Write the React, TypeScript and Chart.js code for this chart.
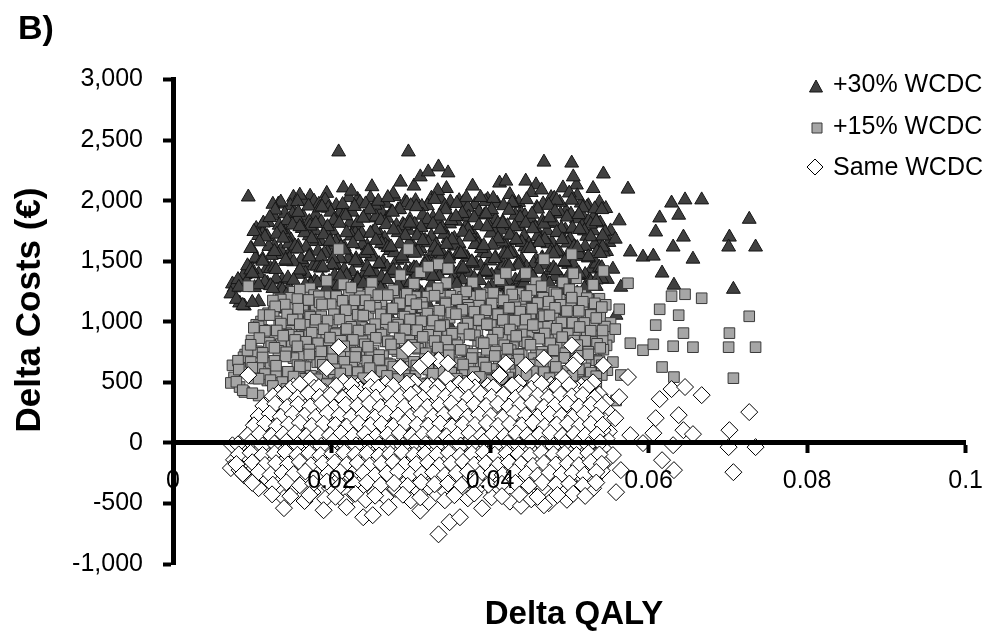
import React, { useEffect, useRef } from 'react';
import { Chart, registerables } from 'chart.js';

Chart.register(...registerables);

// ---- Data ----
const seriesNames = ['+30% WCDC', '+15% WCDC', 'Same WCDC'];
const xTickLabels = ['0', '0.02', '0.04', '0.06', '0.08', '0.1'];
const yTickLabels = ['-1,000', '-500', '0', '500', '1,000', '1,500', '2,000', '2,500', '3,000'];

// Delta QALY of each simulation (shared by the three scenarios)
const deltaQaly = [
  .0152, .0173, .0194, .0215, .0233, .0251, .0268, .0287, .0304, .0312, .0326, .0345, .0361, .0378, .0397, .0412, .0420, .0436, .0445, .0458, .0477, .0492, .0515, .0530,
  .0209, .0297, .0335, .0347, .0322, .0468, .0503, .0509, .0095, .0543, .0574, .0505,
  .0133, .0148, .0165, .0178, .0192, .0206, .0222, .0236, .0249, .0263, .0279, .0293, .0306, .0321, .0337, .0350, .0366, .0381, .0394, .0409, .0425, .0439, .0452, .0467, .0481, .0496, .0510, .0524, .0538,
  .0120, .0136, .0151, .0164, .0180, .0196, .0210, .0226, .0241, .0255, .0270, .0284, .0299, .0314, .0328, .0343, .0357, .0372, .0386, .0401, .0416, .0430, .0444, .0459, .0473, .0488, .0502, .0517, .0531, .0546,
  .0111, .0127, .0142, .0157, .0172, .0187, .0201, .0217, .0231, .0246, .0261, .0276, .0290, .0305, .0319, .0334, .0349, .0363, .0378, .0393, .0407, .0422, .0437, .0451, .0466, .0480, .0495, .0509, .0524, .0539, .0552,
  .0105, .0119, .0134, .0149, .0163, .0179, .0193, .0208, .0223, .0238, .0252, .0267, .0282, .0297, .0311, .0326, .0340, .0355, .0370, .0384, .0399, .0414, .0428, .0443, .0457, .0472, .0487, .0501, .0516, .0530, .0545,
  .0099, .0113, .0128, .0143, .0158, .0172, .0186, .0202, .0216, .0230, .0245, .0259, .0274, .0289, .0303, .0318, .0332, .0347, .0361, .0376, .0391, .0405, .0420, .0434, .0449, .0463, .0478, .0493, .0507, .0522, .0537, .0550,
  .0091, .0106, .0121, .0136, .0150, .0165, .0180, .0195, .0209, .0224, .0239, .0253, .0268, .0283, .0298, .0312, .0327, .0341, .0356, .0371, .0385, .0400, .0415, .0429, .0444, .0458, .0473, .0488, .0502, .0517, .0532, .0547,
  .0075, .0089, .0104, .0118, .0133, .0147, .0162, .0177, .0191, .0206, .0221, .0235, .0250, .0265, .0279, .0294, .0309, .0323, .0338, .0352, .0367, .0382, .0396, .0411, .0426, .0440, .0455, .0469, .0484, .0499, .0513, .0528, .0543,
  .0077, .0093, .0108, .0123, .0138, .0152, .0167, .0182, .0197, .0211, .0226, .0241, .0256, .0270, .0285, .0300, .0314, .0329, .0344, .0358, .0373, .0388, .0402, .0417, .0432, .0446, .0461, .0476, .0490, .0505, .0520, .0534, .0548,
  .0073, .0084, .0100, .0115, .0130, .0145, .0159, .0174, .0189, .0203, .0218, .0233, .0247, .0262, .0277, .0291, .0306, .0321, .0335, .0350, .0365, .0379, .0394, .0409, .0423, .0438, .0453, .0467, .0482, .0497, .0511, .0526, .0541,
  .0090, .0103, .0119, .0135, .0150, .0164, .0179, .0194, .0208, .0223, .0238, .0252, .0267, .0282, .0296, .0311, .0326, .0340, .0355, .0370, .0384, .0399, .0414, .0428, .0443, .0458, .0472, .0487, .0502, .0516, .0531,
  .0108, .0135, .0155, .0176, .0198, .0219, .0240, .0261, .0281, .0302, .0323, .0344, .0364, .0385, .0406, .0426, .0447, .0468, .0489, .0510, .0530,
  .0140, .0166, .0192, .0217, .0243, .0268, .0300, .0322, .0343, .0372, .0402, .0425, .0452, .0474, .0497,
  .0140, .0190, .0219, .0240, .0252, .0272, .0335, .0349, .0362, .0439, .0468, .0312, .0390,
  .0563, .0614, .0629, .0646, .0667, .0638, .0727, .0609, .0644, .0702, .0558, .0542, .0577, .0593, .0606, .0631, .0701, .0735, .0656, .0555, .0617, .0632, .0707, .0565, .0559,
  .0160, .0184, .0225, .0259, .0278, .0295, .0334, .0370, .0404, .0428, .0465, .0484, .0500, .0522,
  .0126, .0141, .0157, .0171, .0185, .0199, .0214, .0229, .0243, .0256, .0271, .0286, .0300, .0315, .0330, .0344, .0358, .0373, .0388, .0402, .0417, .0432, .0446, .0460, .0474, .0489, .0503, .0517, .0532,
  .0114, .0129, .0144, .0158, .0173, .0188, .0203, .0218, .0233, .0248, .0262, .0277, .0292, .0307, .0321, .0336, .0351, .0365, .0380, .0395, .0410, .0424, .0438, .0453, .0468, .0482, .0497, .0512, .0527, .0541,
  .0108, .0122, .0136, .0151, .0166, .0180, .0195, .0210, .0225, .0240, .0255, .0269, .0284, .0299, .0313, .0328, .0342, .0357, .0372, .0386, .0401, .0416, .0431, .0445, .0460, .0475, .0490, .0504, .0519, .0534,
  .0102, .0116, .0131, .0146, .0160, .0175, .0190, .0205, .0219, .0234, .0249, .0263, .0278, .0293, .0308, .0322, .0337, .0352, .0366, .0381, .0396, .0410, .0425, .0440, .0454, .0469, .0484, .0498, .0513, .0527, .0542,
  .0094, .0109, .0124, .0139, .0154, .0168, .0183, .0198, .0212, .0227, .0242, .0256, .0271, .0286, .0301, .0315, .0330, .0345, .0359, .0374, .0389, .0403, .0418, .0433, .0447, .0462, .0476, .0491, .0506, .0520, .0535,
  .0082, .0098, .0113, .0128, .0143, .0157, .0172, .0187, .0202, .0216, .0231, .0246, .0260, .0275, .0290, .0305, .0319, .0334, .0348, .0363, .0378, .0392, .0407, .0422, .0436, .0451, .0466, .0480, .0495, .0510, .0524, .0539,
  .0083, .0098, .0113, .0128, .0142, .0157, .0172, .0186, .0201, .0216, .0230, .0245, .0260, .0274, .0289, .0304, .0318, .0333, .0348, .0362, .0377, .0392, .0406, .0421, .0436, .0450, .0465, .0480, .0494, .0509, .0524, .0538,
  .0080, .0100, .0116, .0130, .0145, .0160, .0174, .0189, .0204, .0219, .0233, .0248, .0263, .0278, .0292, .0307, .0322, .0336, .0351, .0366, .0380, .0395, .0410, .0424, .0439, .0454, .0468, .0483, .0498, .0512, .0527, .0541,
  .0088, .0108, .0123, .0138, .0152, .0167, .0182, .0196, .0211, .0226, .0240, .0255, .0270, .0284, .0299, .0314, .0328, .0343, .0358, .0372, .0387, .0402, .0416, .0431, .0446, .0460, .0475, .0490, .0504, .0519, .0534,
  .0100, .0126, .0143, .0160, .0177, .0194, .0211, .0228, .0245, .0262, .0279, .0296, .0313, .0330, .0347, .0364, .0381, .0398, .0415, .0432, .0449, .0466, .0483, .0500, .0517, .0534,
  .0125, .0148, .0172, .0205, .0230, .0255, .0290, .0312, .0355, .0380, .0415, .0437, .0460, .0485, .0505, .0520,
];

// Delta costs (EUR), same WCDC
const costSame = [
  468, 526, 617, 505, 470, 530, 488, 625, 500, 633, 475, 540, 490, 520, 470, 560, 657, 495, 641, 510, 480, 545, 470, 500,
  790, 780, 683, 657, 690, 699, 805, 683, 559, 640, 543, 640,
  412, 448, 395, 455, 420, 470, 405, 440, 462, 398, 435, 452, 415, 468, 400, 445, 425, 458, 392, 438, 465, 410, 447, 428, 460, 402, 440, 418, 400,
  330, 368, 345, 312, 372, 338, 355, 320, 376, 342, 310, 365, 335, 352, 318, 370, 340, 325, 362, 348, 315, 374, 336, 358, 322, 366, 344, 312, 360, 335,
  237, 290, 255, 232, 282, 265, 240, 295, 250, 272, 230, 288, 258, 245, 292, 236, 268, 284, 242, 262, 296, 233, 276, 252, 290, 240, 268, 230, 285, 255, 240,
  170, 163, 212, 185, 150, 205, 178, 160, 215, 190, 152, 200, 175, 210, 158, 195, 172, 148, 208, 182, 165, 214, 155, 198, 176, 210, 150, 192, 168, 205, 180,
  95, 128, 82, 115, 135, 90, 120, 72, 108, 132, 85, 118, 98, 130, 75, 112, 126, 88, 104, 135, 78, 122, 96, 110, 132, 80, 116, 92, 128, 86, 110, 95,
  39, 6, 22, 50, 15, -5, 42, 28, 55, 8, 35, -2, 48, 18, 30, 60, 2, 40, 25, -8, 52, 12, 38, 20, 58, 0, 44, 26, 10, 50, 18, 35,
  -20, -60, -35, -75, -45, -19, -70, -30, -55, -80, -40, -25, -65, -48, -15, -72, -38, -58, -28, -78, -44, -62, -22, -68, -50, -35, -80, -42, -18, -66, -30, -55, -45,
  -140, -110, -150, -120, -165, -105, -140, -125, -158, -100, -135, -170, -115, -148, -128, -160, -108, -142, -122, -168, -102, -138, -155, -118, -145, -170, -112, -135, -160, -125, -150, -108, -140,
  -208, -225, -190, -235, -205, -245, -185, -220, -240, -198, -230, -188, -250, -212, -195, -238, -206, -248, -186, -225, -215, -242, -192, -228, -250, -200, -235, -210, -188, -244, -218, -196, -230,
  -270, -208, -300, -275, -315, -285, -265, -310, -290, -272, -320, -282, -300, -268, -312, -288, -276, -305, -262, -318, -292, -270, -308, -285, -265, -316, -290, -274, -305, -282, -300,
  -374, -390, -360, -405, -372, -395, -365, -410, -380, -398, -362, -402, -385, -370, -408, -378, -392, -366, -400, -382, -375,
  -455, -480, -462, -490, -470, -448, -474, -492, -474, -458, -449, -485, -466, -498, -470,
  -539, -556, -531, -614, -597, -531, -755, -655, -614, -520, -515, -560, -540,
  378, 361, 444, 461, 394, 229, 254, 204, 105, 105, 204, 105, 64, -2, 80, -19, -35, -35, 72, -101, -143, -225, -242, -225, -407,
  485, 460, 478, 455, 470, 490, 462, 480, 458, 475, 488, 462, 478, 455,
  385, 402, 372, 410, 380, 395, 368, 412, 388, 375, 405, 382, 398, 370, 410, 385, 392, 375, 406, 380, 398, 370, 408, 390, 376, 400, 384, 395, 372,
  305, 322, 295, 318, 300, 328, 292, 315, 308, 325, 296, 320, 302, 330, 298, 312, 326, 294, 318, 305, 322, 300, 314, 328, 296, 310, 324, 300, 316, 306,
  222, 240, 215, 238, 225, 212, 245, 228, 218, 236, 210, 242, 226, 214, 239, 220, 232, 248, 216, 234, 222, 210, 244, 228, 215, 238, 224, 212, 240, 226,
  145, 160, 138, 152, 165, 140, 158, 148, 135, 162, 146, 155, 138, 166, 150, 142, 160, 136, 154, 148, 164, 140, 156, 145, 168, 138, 152, 160, 142, 156, 148,
  62, 75, 58, 70, 80, 55, 72, 64, 78, 60, 74, 52, 68, 82, 58, 70, 76, 54, 66, 80, 60, 72, 56, 78, 64, 70, 82, 58, 74, 62, 68,
  -12, 5, -22, -5, 8, -18, 0, -25, 10, -8, -20, 4, -15, -2, -24, 6, -10, -18, 2, -22, -6, 8, -16, -3, -20, 5, -12, -25, 0, -8, -18, 4,
  -95, -82, -100, -88, -76, -98, -85, -102, -90, -80, -96, -86, -104, -92, -78, -100, -88, -95, -82, -106, -90, -78, -98, -86, -92, -104, -80, -94, -88, -100, -84, -96,
  -175, -160, -182, -168, -178, -158, -185, -170, -162, -180, -166, -188, -172, -160, -182, -176, -164, -186, -170, -158, -180, -168, -184, -162, -176, -190, -166, -178, -170, -184, -160, -174,
  -255, -240, -262, -248, -258, -236, -265, -250, -242, -260, -246, -268, -252, -238, -262, -256, -244, -266, -250, -238, -260, -248, -264, -242, -256, -270, -246, -258, -250, -264, -240,
  -330, -345, -325, -350, -335, -320, -352, -338, -328, -348, -332, -355, -326, -342, -335, -350, -322, -345, -338, -330, -352, -326, -344, -336, -350, -328,
  -425, -440, -430, -445, -420, -436, -428, -450, -432, -418, -440, -426, -446, -430, -420, -438,
];

// Delta costs (EUR), +15% WCDC
const cost15 = [
  1248, 1276, 1339, 1310, 1235, 1320, 1228, 1385, 1315, 1409, 1245, 1320, 1240, 1325, 1235, 1350, 1402, 1235, 1402, 1325, 1250, 1325, 1220, 1305,
  1600, 1600, 1475, 1440, 1455, 1516, 1558, 1359, 1293, 1419, 1318, 1400,
  1192, 1198, 1200, 1220, 1210, 1210, 1220, 1210, 1242, 1148, 1240, 1217, 1205, 1208, 1215, 1215, 1205, 1208, 1197, 1203, 1255, 1150, 1262, 1198, 1240, 1152, 1245, 1183, 1190,
  1070, 1183, 1115, 1092, 1122, 1143, 1120, 1110, 1116, 1157, 1080, 1145, 1085, 1157, 1083, 1160, 1080, 1140, 1132, 1128, 1065, 1179, 1101, 1148, 1062, 1181, 1114, 1092, 1110, 1140,
  1002, 1080, 995, 1047, 1052, 1045, 990, 1100, 1015, 1062, 970, 1103, 1028, 1025, 1042, 1041, 1033, 1074, 982, 1077, 1066, 1013, 1026, 1057, 1055, 1030, 1008, 1045, 1055, 1035, 990,
  975, 928, 1002, 925, 965, 975, 958, 910, 1020, 955, 942, 940, 990, 980, 938, 945, 977, 913, 998, 922, 980, 984, 935, 948, 981, 975, 940, 932, 983, 975, 960,
  845, 933, 847, 905, 875, 905, 890, 852, 858, 937, 850, 908, 838, 945, 845, 892, 876, 893, 869, 925, 818, 937, 866, 890, 882, 885, 881, 882, 868, 901, 880, 875,
  729, 756, 827, 815, 805, 735, 857, 798, 835, 758, 840, 763, 838, 758, 845, 830, 782, 790, 830, 757, 842, 752, 853, 790, 838, 750, 849, 791, 800, 790, 833, 805,
  640, 707, 745, 675, 760, 746, 720, 710, 760, 690, 740, 725, 740, 717, 775, 668, 777, 712, 752, 672, 761, 703, 768, 672, 765, 735, 700, 708, 787, 699, 760, 685, 770,
  540, 610, 620, 660, 585, 700, 625, 665, 582, 715, 635, 610, 635, 657, 637, 630, 632, 673, 648, 612, 648, 667, 610, 672, 595, 645, 658, 645, 590, 680, 615, 682, 600,
  495, 461, 625, 535, 575, 505, 620, 545, 550, 542, 585, 582, 530, 538, 610, 527, 584, 492, 629, 545, 565, 508, 613, 537, 540, 540, 580, 560, 592, 506, 587, 569, 560,
  420, 532, 515, 495, 465, 465, 540, 455, 500, 468, 495, 488, 480, 482, 493, 477, 514, 435, 553, 452, 488, 480, 497, 480, 525, 424, 525, 496, 475, 468, 505,
  391, 400, 380, 410, 398, 385, 385, 395, 385, 392, 378, 413, 385, 410, 342, 427, 373, 424, 340, 433, 395,
  325, 270, 343, 275, 320, 292, 341, 278, 306, 292, 356, 280, 324, 242, 345,
  231, 224, 219, 191, 168, 259, -15, 160, 156, 260, 235, 245, 225,
  1103, 1103, 1211, 1227, 1194, 1054, 1045, 972, 906, 906, 939, 856, 823, 765, 814, 798, 790, 790, 790, 667, 626, 543, 534, 560, 350,
  1265, 1210, 1283, 1220, 1260, 1230, 1277, 1250, 1238, 1225, 1293, 1227, 1268, 1195,
  1175, 1142, 1187, 1180, 1160, 1145, 1173, 1177, 1178, 1115, 1220, 1152, 1178, 1120, 1215, 1150, 1182, 1115, 1221, 1150, 1178, 1120, 1213, 1155, 1166, 1140, 1199, 1165, 1152,
  1055, 1127, 1060, 1108, 1040, 1143, 1062, 1095, 1058, 1130, 1061, 1110, 1042, 1145, 1068, 1092, 1076, 1099, 1083, 1095, 1062, 1115, 1084, 1108, 1046, 1115, 1089, 1090, 1056, 1121,
  962, 1055, 985, 1018, 975, 1017, 1010, 1018, 958, 1051, 980, 1022, 976, 1019, 1004, 1010, 972, 1063, 986, 1014, 972, 1015, 1009, 1018, 955, 1053, 994, 992, 990, 1031,
  950, 925, 928, 892, 980, 910, 938, 898, 940, 927, 936, 895, 953, 936, 930, 892, 965, 901, 944, 888, 979, 910, 936, 895, 973, 903, 942, 900, 957, 926, 928,
  762, 865, 798, 885, 850, 835, 822, 869, 843, 850, 814, 867, 838, 862, 808, 875, 841, 844, 806, 895, 830, 852, 806, 883, 829, 860, 822, 873, 844, 842, 818,
  678, 810, 743, 785, 748, 797, 770, 755, 760, 797, 745, 794, 725, 813, 746, 786, 740, 787, 767, 768, 734, 823, 754, 777, 730, 810, 753, 765, 740, 807, 752, 784,
  605, 668, 705, 677, 714, 642, 730, 668, 690, 670, 709, 679, 686, 648, 737, 670, 692, 655, 723, 659, 700, 662, 717, 684, 688, 646, 725, 671, 702, 640, 731, 674,
  505, 620, 568, 637, 587, 632, 555, 645, 608, 600, 584, 617, 593, 630, 558, 639, 606, 594, 580, 647, 585, 622, 556, 653, 594, 590, 584, 627, 595, 606, 580, 641,
  435, 530, 518, 502, 547, 529, 525, 490, 573, 510, 534, 482, 553, 527, 528, 484, 571, 504, 530, 512, 545, 517, 526, 498, 559, 500, 534, 492, 555, 501, 550,
  410, 470, 445, 430, 415, 485, 413, 452, 412, 467, 438, 425, 424, 463, 430, 440, 418, 470, 432, 450, 398, 479, 421, 454, 390, 487,
  325, 365, 335, 345, 320, 379, 342, 330, 318, 387, 325, 364, 294, 385, 350, 342,
];

// Delta costs (EUR), +30% WCDC
const cost30 = [
  2028, 2036, 2060, 2105, 2010, 2115, 1978, 2153, 2120, 2196, 2020, 2100, 2000, 2120, 2010, 2145, 2161, 1985, 2161, 2130, 2025, 2105, 1980, 2100,
  2402, 2402, 2278, 2229, 2237, 2318, 2310, 2129, 2030, 2220, 2095, 2196,
  1972, 1958, 1995, 1995, 2005, 1960, 2025, 1985, 2022, 1908, 2035, 1992, 2000, 1958, 2020, 1990, 1985, 1968, 1992, 1978, 2050, 1900, 2067, 1973, 2020, 1912, 2040, 1958, 1985,
  1820, 1988, 1890, 1872, 1882, 1938, 1895, 1905, 1866, 1962, 1855, 1925, 1845, 1952, 1858, 1955, 1830, 1945, 1907, 1908, 1825, 1974, 1876, 1943, 1812, 1986, 1889, 1872, 1870, 1935,
  1777, 1875, 1745, 1852, 1827, 1825, 1750, 1895, 1790, 1857, 1720, 1908, 1803, 1805, 1802, 1836, 1808, 1869, 1732, 1882, 1841, 1793, 1786, 1852, 1830, 1825, 1758, 1850, 1830, 1815, 1750,
  1770, 1703, 1797, 1675, 1770, 1750, 1738, 1670, 1815, 1730, 1737, 1690, 1795, 1755, 1718, 1705, 1772, 1688, 1793, 1672, 1785, 1759, 1715, 1708, 1776, 1750, 1735, 1682, 1788, 1750, 1740,
  1605, 1728, 1622, 1700, 1625, 1710, 1665, 1632, 1618, 1732, 1625, 1703, 1588, 1750, 1620, 1672, 1636, 1688, 1644, 1720, 1568, 1742, 1641, 1670, 1642, 1680, 1656, 1677, 1618, 1706, 1655, 1655,
  1389, 1516, 1622, 1590, 1600, 1485, 1662, 1573, 1615, 1518, 1635, 1538, 1633, 1508, 1650, 1605, 1562, 1550, 1625, 1532, 1637, 1502, 1658, 1565, 1618, 1510, 1644, 1566, 1595, 1540, 1638, 1580,
  1312, 1385, 1525, 1435, 1555, 1521, 1515, 1460, 1565, 1465, 1520, 1485, 1535, 1492, 1570, 1418, 1582, 1487, 1532, 1432, 1556, 1478, 1563, 1422, 1570, 1510, 1480, 1468, 1582, 1474, 1555, 1435, 1575,
  1280, 1330, 1395, 1440, 1345, 1495, 1400, 1460, 1332, 1520, 1410, 1390, 1395, 1452, 1412, 1425, 1382, 1478, 1423, 1392, 1408, 1462, 1385, 1467, 1345, 1450, 1433, 1425, 1350, 1475, 1390, 1477, 1350,
  1230, 1155, 1430, 1310, 1355, 1265, 1415, 1320, 1345, 1292, 1390, 1357, 1310, 1298, 1405, 1302, 1379, 1242, 1434, 1320, 1345, 1268, 1408, 1312, 1335, 1290, 1385, 1335, 1372, 1266, 1382, 1344, 1355,
  1130, 1282, 1320, 1270, 1245, 1225, 1335, 1230, 1295, 1218, 1300, 1263, 1260, 1242, 1288, 1252, 1309, 1185, 1358, 1227, 1268, 1240, 1292, 1255, 1320, 1174, 1330, 1271, 1255, 1228, 1300,
  1166, 1195, 1130, 1215, 1173, 1165, 1145, 1190, 1160, 1187, 1128, 1218, 1160, 1190, 1102, 1222, 1148, 1219, 1090, 1238, 1170,
  1105, 1030, 1138, 1050, 1115, 1042, 1146, 1053, 1086, 1052, 1151, 1055, 1119, 992, 1150,
  1006, 1004, 979, 986, 943, 1054, 735, 965, 931, 1040, 995, 1040, 1000,
  1833, 1857, 1980, 2006, 2006, 1880, 1846, 1741, 1699, 1699, 1682, 1617, 1576, 1534, 1542, 1617, 1617, 1617, 1517, 1434, 1402, 1302, 1268, 1285, 1054,
  2045, 1970, 2078, 1995, 2055, 1980, 2082, 2025, 2018, 1985, 2088, 2002, 2063, 1945,
  1970, 1892, 1992, 1955, 1940, 1905, 1968, 1952, 1973, 1865, 2025, 1927, 1958, 1880, 2010, 1925, 1977, 1865, 2026, 1925, 1958, 1880, 2008, 1930, 1961, 1890, 2004, 1940, 1932,
  1815, 1922, 1835, 1903, 1790, 1948, 1837, 1875, 1818, 1925, 1836, 1905, 1792, 1950, 1843, 1872, 1836, 1894, 1858, 1890, 1812, 1920, 1859, 1888, 1806, 1910, 1864, 1885, 1806, 1926,
  1712, 1860, 1760, 1798, 1735, 1812, 1785, 1813, 1708, 1856, 1755, 1802, 1736, 1814, 1779, 1805, 1722, 1868, 1761, 1794, 1732, 1810, 1784, 1813, 1705, 1858, 1769, 1772, 1750, 1826,
  1745, 1700, 1723, 1642, 1785, 1685, 1718, 1658, 1735, 1702, 1731, 1645, 1758, 1711, 1710, 1652, 1760, 1676, 1739, 1638, 1784, 1685, 1716, 1655, 1768, 1678, 1737, 1650, 1762, 1701, 1708,
  1462, 1660, 1548, 1690, 1625, 1615, 1582, 1664, 1618, 1645, 1564, 1672, 1613, 1642, 1568, 1670, 1616, 1639, 1556, 1700, 1605, 1632, 1566, 1678, 1604, 1655, 1572, 1678, 1619, 1622, 1578,
  1348, 1605, 1518, 1580, 1498, 1602, 1545, 1535, 1520, 1592, 1520, 1589, 1475, 1618, 1521, 1566, 1500, 1582, 1542, 1563, 1484, 1628, 1529, 1557, 1490, 1605, 1528, 1560, 1490, 1612, 1527, 1564,
  1285, 1428, 1500, 1452, 1509, 1392, 1535, 1443, 1470, 1430, 1504, 1454, 1481, 1398, 1542, 1445, 1472, 1415, 1518, 1434, 1495, 1412, 1522, 1459, 1468, 1406, 1520, 1446, 1497, 1390, 1536, 1449,
  1185, 1400, 1328, 1432, 1362, 1427, 1305, 1450, 1383, 1380, 1344, 1412, 1368, 1425, 1308, 1444, 1381, 1374, 1340, 1442, 1360, 1417, 1306, 1458, 1369, 1370, 1344, 1422, 1370, 1401, 1330, 1446,
  1135, 1305, 1298, 1262, 1342, 1304, 1320, 1240, 1378, 1285, 1314, 1242, 1348, 1302, 1323, 1234, 1376, 1279, 1310, 1272, 1340, 1292, 1321, 1248, 1364, 1275, 1314, 1252, 1350, 1276, 1345,
  1160, 1275, 1220, 1210, 1175, 1280, 1188, 1247, 1162, 1272, 1213, 1205, 1184, 1258, 1205, 1235, 1168, 1275, 1207, 1230, 1158, 1274, 1196, 1249, 1140, 1292,
  1085, 1160, 1110, 1140, 1070, 1184, 1117, 1110, 1078, 1182, 1100, 1159, 1044, 1190, 1125, 1122,
];

// ---- Styling ----
const FONT = "'Liberation Sans', Arial, sans-serif";
const TICK_SIZE = 25;
const TRI_FILL = '#404040';
const TRI_EDGE = '#151515';
const SQ_FILL = '#a6a6a6';
const SQ_EDGE = '#3a3a3a';
const DIA_FILL = '#ffffff';
const DIA_EDGE = '#000000';

const decorPlugin = {
  id: 'decor',
  afterDraw(chart: any) {
    const ctx: CanvasRenderingContext2D = chart.ctx;
    ctx.save();
    ctx.fillStyle = '#000';
    // panel letter
    ctx.font = `bold 34px ${FONT}`;
    ctx.textAlign = 'left';
    ctx.textBaseline = 'alphabetic';
    ctx.fillText('B)', 18, 39);
    // x title
    ctx.font = `bold 33px ${FONT}`;
    ctx.textAlign = 'center';
    ctx.textBaseline = 'middle';
    ctx.fillText('Delta QALY', 574, 615);
    // y title
    ctx.save();
    ctx.translate(30, 310);
    ctx.rotate(-Math.PI / 2);
    ctx.font = `bold 35px ${FONT}`;
    ctx.fillText('Delta Costs (\u20AC)', 0, 0);
    ctx.restore();

    // legend
    ctx.lineWidth = 1;
    ctx.beginPath();
    ctx.moveTo(816, 80);
    ctx.lineTo(822.5, 92);
    ctx.lineTo(809.5, 92);
    ctx.closePath();
    ctx.fillStyle = TRI_FILL;
    ctx.strokeStyle = TRI_EDGE;
    ctx.fill();
    ctx.stroke();

    ctx.beginPath();
    ctx.rect(812, 123, 10, 10);
    ctx.fillStyle = SQ_FILL;
    ctx.strokeStyle = SQ_EDGE;
    ctx.fill();
    ctx.stroke();

    ctx.beginPath();
    ctx.moveTo(815, 159);
    ctx.lineTo(823, 167);
    ctx.lineTo(815, 175);
    ctx.lineTo(807, 167);
    ctx.closePath();
    ctx.fillStyle = DIA_FILL;
    ctx.strokeStyle = DIA_EDGE;
    ctx.fill();
    ctx.stroke();

    ctx.fillStyle = '#000';
    ctx.font = `25px ${FONT}`;
    ctx.textAlign = 'left';
    ctx.textBaseline = 'middle';
    ctx.fillText(seriesNames[0], 833, 85);
    ctx.fillText(seriesNames[1], 833, 127);
    ctx.fillText(seriesNames[2], 833, 168);
    ctx.restore();
  },
};

export default function App() {
  const ref = useRef<HTMLCanvasElement | null>(null);

  useEffect(() => {
    if (!ref.current) return;
    const ptsSame = deltaQaly.map((x, i) => ({ x, y: costSame[i] }));
    const pts15 = deltaQaly.map((x, i) => ({ x, y: cost15[i] }));
    const pts30 = deltaQaly.map((x, i) => ({ x, y: cost30[i] }));

    const chart = new Chart(ref.current, {
      type: 'scatter',
      data: {
        datasets: [
          {
            label: seriesNames[2],
            data: ptsSame,
            pointStyle: 'rectRot',
            pointRadius: 8.5,
            backgroundColor: DIA_FILL,
            borderColor: DIA_EDGE,
            borderWidth: 1,
          },
          {
            label: seriesNames[1],
            data: pts15,
            pointStyle: 'rect',
            pointRadius: 7.5,
            backgroundColor: SQ_FILL,
            borderColor: SQ_EDGE,
            borderWidth: 1,
          },
          {
            label: seriesNames[0],
            data: pts30,
            pointStyle: 'triangle',
            pointRadius: 8,
            backgroundColor: TRI_FILL,
            borderColor: TRI_EDGE,
            borderWidth: 1,
          },
        ],
      },
      options: {
        responsive: false,
        animation: false,
        events: [],
        layout: { padding: { top: 79.5, bottom: 72, left: 0, right: 21 } },
        plugins: {
          legend: { display: false },
          tooltip: { enabled: false },
        },
        scales: {
          x: {
            type: 'linear',
            min: 0,
            max: 0.1,
            position: { y: 0 } as any,
            ticks: {
              z: 1,
              stepSize: 0.02,
              color: '#000',
              font: { family: FONT, size: TICK_SIZE },
              padding: 15,
              maxRotation: 0,
              autoSkip: false,
              callback: (_v: any, i: number) => xTickLabels[i],
            },
            grid: {
              z: 1,
              drawOnChartArea: false,
              drawTicks: true,
              tickLength: 8,
              tickWidth: 4,
              tickColor: '#000',
            },
            border: { z: 1, display: true, color: '#000', width: 5 },
          },
          y: {
            type: 'linear',
            min: -1000,
            max: 3000,
            position: 'left',
            ticks: {
              z: 1,
              stepSize: 500,
              color: '#000',
              font: { family: FONT, size: TICK_SIZE },
              padding: 20,
              callback: (_v: any, i: number) => yTickLabels[i],
            },
            grid: {
              z: 1,
              drawOnChartArea: false,
              drawTicks: true,
              tickLength: 10,
              tickWidth: 4,
              tickColor: '#000',
            },
            border: { z: 1, display: true, color: '#000', width: 5 },
            afterFit: (scale: any) => {
              scale.width = 173;
            },
          },
        },
      },
      plugins: [decorPlugin],
    } as any);

    return () => chart.destroy();
  }, []);

  return (
    <div style={{ position: 'fixed', left: 0, top: 0, width: 998, height: 636, background: '#fff' }}>
      <canvas ref={ref} width={998} height={636} style={{ display: 'block' }} />
    </div>
  );
}
